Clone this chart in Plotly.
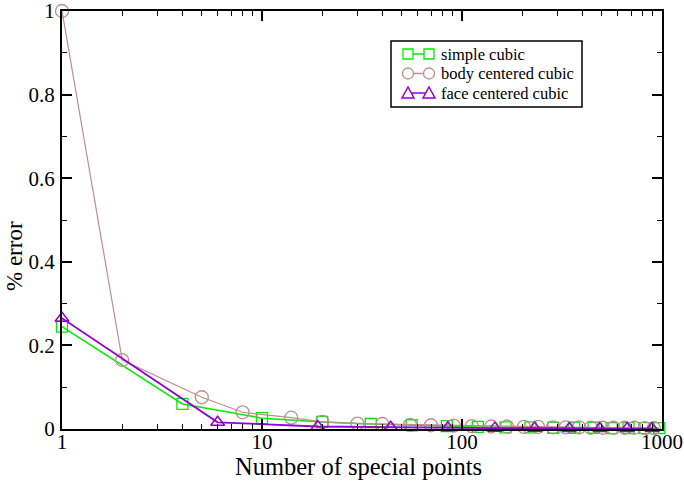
import plotly.graph_objects as go

sc_x = [1, 4, 10, 20, 35, 56, 84, 120, 165, 220, 286, 364, 455, 560, 680, 816, 969]
sc_y = [0.245, 0.060, 0.026, 0.017, 0.012, 0.009, 0.007, 0.005, 0.004, 0.004, 0.003, 0.003, 0.003, 0.002, 0.002, 0.002, 0.002]

bcc_x = [1, 2, 5, 8, 14, 20, 30, 40, 55, 70, 91, 112, 140, 168, 204, 240, 285, 330, 385, 440, 506, 572, 650, 728, 819, 910]
bcc_y = [1.0, 0.165, 0.076, 0.040, 0.027, 0.017, 0.013, 0.012, 0.010, 0.009, 0.008, 0.007, 0.006, 0.006, 0.005, 0.005, 0.004, 0.004, 0.004, 0.003, 0.003, 0.003, 0.003, 0.003, 0.002, 0.002]

fcc_x = [1, 6, 19, 44, 85, 146, 231, 344, 489, 670, 891]
fcc_y = [0.265, 0.016, 0.006, 0.004, 0.003, 0.002, 0.002, 0.001, 0.001, 0.001, 0.001]

series_names = ["simple cubic", "body centered cubic", "face centered cubic"]

x_ticks = [1, 10, 100, 1000]
x_ticktext = ["1", "10", "100", "1000"]
y_ticks = [0, 0.2, 0.4, 0.6, 0.8, 1.0]
y_ticktext = ["0", "0.2", "0.4", "0.6", "0.8", "1"]

x_title = "Number of special points"
y_title = "% error"

GREEN = "rgb(0,235,0)"
BROWN = "rgb(188,143,143)"
VIOLET = "rgb(148,0,211)"
FONT = "Liberation Serif"

# plot area in pixels (for layout helpers)
PL, PR, PT, PB = 62, 662, 11, 429


def px(x):
    return (x - PL) / (PR - PL)


def py(y):
    return (PB - y) / (PB - PT)


fig = go.Figure()
fig.add_trace(go.Scatter(x=sc_x, y=sc_y, name=series_names[0], mode="lines+markers",
                         line=dict(color=GREEN, width=1.5),
                         marker=dict(symbol="square-open", size=11, color=GREEN, line=dict(width=1.3)),
                         cliponaxis=False, showlegend=False))
fig.add_trace(go.Scatter(x=bcc_x, y=bcc_y, name=series_names[1], mode="lines+markers",
                         line=dict(color=BROWN, width=1.2),
                         marker=dict(symbol="circle-open", size=13, color=BROWN, line=dict(width=1.3)),
                         cliponaxis=False, showlegend=False))
fig.add_trace(go.Scatter(x=fcc_x, y=fcc_y, name=series_names[2], mode="lines+markers",
                         line=dict(color=VIOLET, width=1.8),
                         marker=dict(symbol="triangle-up-open", size=12, color=VIOLET, line=dict(width=1.5)),
                         cliponaxis=False, showlegend=False))

minor_x = [m * d for d in (1, 10, 100) for m in range(2, 10)]

# ---- custom xmgrace-style legend (box, line with two markers, text) ----
shapes = []
annotations = []
shapes.append(dict(type="rect", xref="paper", yref="paper",
                   x0=px(391), x1=px(582), y0=py(107), y1=py(41),
                   line=dict(color="black", width=1.5), fillcolor="white", layer="above"))
rows = [54, 73.5, 93]
colors = [GREEN, BROWN, VIOLET]
kinds = ["square", "circle", "triangle"]
mx1, mx2, h = 408, 429, 5
for name, ry, col, kind in zip(series_names, rows, colors, kinds):
    shapes.append(dict(type="line", xref="paper", yref="paper",
                       x0=px(mx1), x1=px(mx2), y0=py(ry), y1=py(ry),
                       line=dict(color=col, width=1.5), layer="above"))
    for cx in (mx1, mx2):
        if kind == "square":
            shapes.append(dict(type="rect", xref="paper", yref="paper",
                               x0=px(cx - h), x1=px(cx + h), y0=py(ry + h), y1=py(ry - h),
                               line=dict(color=col, width=1.3), fillcolor="white", layer="above"))
        elif kind == "circle":
            shapes.append(dict(type="circle", xref="paper", yref="paper",
                               x0=px(cx - h - 0.5), x1=px(cx + h + 0.5), y0=py(ry + h + 0.5), y1=py(ry - h - 0.5),
                               line=dict(color=col, width=1.3), fillcolor="white", layer="above"))
        else:
            path = "M {:.5f},{:.5f} L {:.5f},{:.5f} L {:.5f},{:.5f} Z".format(
                px(cx - h - 1), py(ry + h), px(cx + h + 1), py(ry + h), px(cx), py(ry - h - 1))
            shapes.append(dict(type="path", xref="paper", yref="paper", path=path,
                               line=dict(color=col, width=1.5), fillcolor="white", layer="above"))
    annotations.append(dict(text=name, xref="paper", yref="paper", x=px(439), y=py(ry),
                            xanchor="left", yanchor="middle", showarrow=False,
                            font=dict(family=FONT, size=16.5, color="black")))

annotations.append(dict(text=x_title, xref="paper", yref="paper", x=px(358), y=py(467),
                        xanchor="center", yanchor="middle", showarrow=False,
                        font=dict(family=FONT, size=24.5)))
annotations.append(dict(text=y_title, xref="paper", yref="paper", x=px(14), y=py(256),
                        xanchor="center", yanchor="middle", showarrow=False, textangle=-90,
                        font=dict(family=FONT, size=23)))

fig.update_layout(
    width=684, height=484,
    margin=dict(l=PL, r=684 - PR, t=PT, b=484 - PB),
    paper_bgcolor="white", plot_bgcolor="white",
    font=dict(family=FONT, size=21, color="black"),
    showlegend=False,
    xaxis=dict(type="log", range=[0, 3], tickvals=x_ticks, ticktext=x_ticktext,
               ticks="inside", ticklen=10, tickwidth=1.5, tickcolor="black",
               showline=True, linewidth=2, linecolor="black", mirror="ticks",
               showgrid=False, zeroline=False, automargin=False,
               ticklabelstandoff=-7, ticklabeloverflow="allow",
               minor=dict(tickvals=minor_x, ticks="inside", ticklen=5, tickwidth=1.2, tickcolor="black", showgrid=False),
               tickfont=dict(size=21)),
    yaxis=dict(range=[0, 1], tickvals=y_ticks, ticktext=y_ticktext,
               ticks="inside", ticklen=10, tickwidth=1.5, tickcolor="black",
               showline=True, linewidth=2, linecolor="black", mirror="ticks",
               showgrid=False, zeroline=False, automargin=False,
               ticklabelstandoff=1, ticklabeloverflow="allow",
               minor=dict(dtick=0.1, ticks="inside", ticklen=5, tickwidth=1.2, tickcolor="black", showgrid=False),
               tickfont=dict(size=21)),
    shapes=shapes,
    annotations=annotations,
)

fig.write_html("out.html", config={"displayModeBar": False},
               post_script="document.body.style.margin='0';")
